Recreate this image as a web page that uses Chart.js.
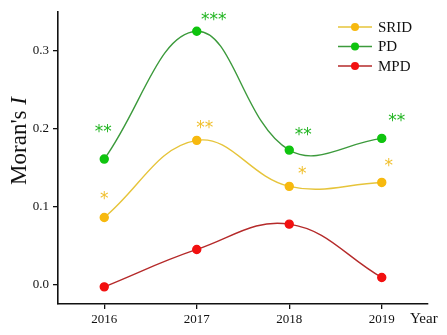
<!DOCTYPE html>
<html>
<head>
<meta charset="utf-8">
<script src="https://cdn.jsdelivr.net/npm/chart.js@4/dist/chart.umd.min.js"></script>
<style>
  html, body { margin: 0; padding: 0; background: #fff; }
  #wrap { width: 447px; height: 335px; }
</style>
</head>
<body>
<div id="wrap"><canvas id="chart"></canvas></div>
<script>
const years = [2016, 2017, 2018, 2019]
const yTicks = [0.0, 0.1, 0.2, 0.3]

const srid = [0.086, 0.185, 0.126, 0.131]
const pd = [0.161, 0.325, 0.1725, 0.1875]
const mpd = [-0.003, 0.045, 0.0775, 0.009]

// significance marks shown next to each point
const sridStars = ['*', '**', '*', '*']
const pdStars = ['**', '***', '**', '**']
const mpdStars = ['', '', '', '']

const serif = '"Liberation Serif", "DejaVu Serif", serif'

function toXY(values) {
  return values.map((v, i) => ({ x: years[i], y: v }))
}

const series = [
  { label: 'SRID', data: srid, stars: sridStars, line: '#e6c43a', point: '#f7b90f', star: '#f0bf2c', dx: [0, 8, 13, 7], dy: [-18, -12, -12, -16] },
  { label: 'PD', data: pd, stars: pdStars, line: '#3c9a3c', point: '#0fc40f', star: '#22b522', dx: [-1, 17, 14, 15], dy: [-26, -11, -15, -17] },
  { label: 'MPD', data: mpd, stars: mpdStars, line: '#b52a2a', point: '#f21010', star: '#f21010', dx: [0, 0, 0, 0], dy: [0, 0, 0, 0] },
]

const extras = {
  id: 'extras',
  afterDatasetsDraw(chart) {
    const ctx = chart.ctx
    const xs = chart.scales.x
    const ys = chart.scales.y
    ctx.save()

    // stars
    ctx.font = '17px "DejaVu Sans", sans-serif'
    ctx.textAlign = 'center'
    ctx.textBaseline = 'middle'
    series.forEach(s => {
      ctx.fillStyle = s.star
      s.data.forEach((v, i) => {
        if (!s.stars[i]) return
        ctx.fillText(s.stars[i], xs.getPixelForValue(years[i]) + s.dx[i], ys.getPixelForValue(v) + s.dy[i])
      })
    })

    // legend
    ctx.font = '15px ' + serif
    ctx.textAlign = 'left'
    series.forEach((s, i) => {
      const y = 27 + i * 19.5
      ctx.strokeStyle = s.line
      ctx.lineWidth = 1.5
      ctx.beginPath()
      ctx.moveTo(338, y)
      ctx.lineTo(372, y)
      ctx.stroke()
      ctx.fillStyle = s.point
      ctx.beginPath()
      ctx.arc(355, y, 4, 0, Math.PI * 2)
      ctx.fill()
      ctx.fillStyle = '#111'
      ctx.fillText(s.label, 378, y + 1)
    })

    // axis titles
    ctx.fillStyle = '#111'
    ctx.font = '15px ' + serif
    ctx.textAlign = 'left'
    ctx.fillText('Year', 410, 319)

    ctx.translate(26, 141)
    ctx.rotate(-Math.PI / 2)
    ctx.textBaseline = 'alphabetic'
    const a = "Moran's "
    ctx.font = '23px ' + serif
    const wa = ctx.measureText(a).width
    ctx.font = 'italic 23px ' + serif
    const wb = ctx.measureText('I').width
    const start = -(wa + wb) / 2
    ctx.font = '23px ' + serif
    ctx.fillText(a, start, 0)
    ctx.font = 'italic 23px ' + serif
    ctx.fillText('I', start + wa, 0)
    ctx.restore()
  }
}

new Chart(document.getElementById('chart'), {
  type: 'line',
  data: {
    datasets: series.map(s => ({
      label: s.label,
      data: toXY(s.data),
      borderColor: s.line,
      backgroundColor: s.point,
      pointBackgroundColor: s.point,
      pointBorderColor: s.point,
      pointRadius: 4,
      borderWidth: 1.4,
      tension: 0.4,
      fill: false,
    }))
  },
  options: {
    responsive: true,
    maintainAspectRatio: false,
    animation: false,
    layout: { padding: { top: 5, right: 19, left: 0, bottom: 0 } },
    plugins: {
      legend: { display: false },
      tooltip: { enabled: false },
    },
    scales: {
      x: {
        type: 'linear',
        min: 2015.5,
        max: 2019.5,
        afterBuildTicks: scale => { scale.ticks = years.map(v => ({ value: v })) },
        afterFit: scale => { scale.height = 31 },
        grid: { drawOnChartArea: false, drawTicks: true, tickLength: 5, color: '#111', lineWidth: 1.3 },
        border: { display: true, color: '#111', width: 1.6 },
        ticks: {
          color: '#111',
          font: { family: serif, size: 13 },
          padding: 3,
          maxRotation: 0,
          callback: v => String(v),
        },
      },
      y: {
        min: -0.025,
        max: 0.35,
        afterBuildTicks: scale => { scale.ticks = yTicks.map(v => ({ value: v })) },
        afterFit: scale => { scale.width = 58 },
        grid: { drawOnChartArea: false, drawTicks: true, tickLength: 5, color: '#111', lineWidth: 1.3 },
        border: { display: true, color: '#111', width: 1.6 },
        ticks: {
          color: '#111',
          font: { family: serif, size: 13 },
          padding: 4,
          callback: v => v.toFixed(1),
        },
      },
    },
  },
  plugins: [extras],
})
</script>
</body>
</html>
